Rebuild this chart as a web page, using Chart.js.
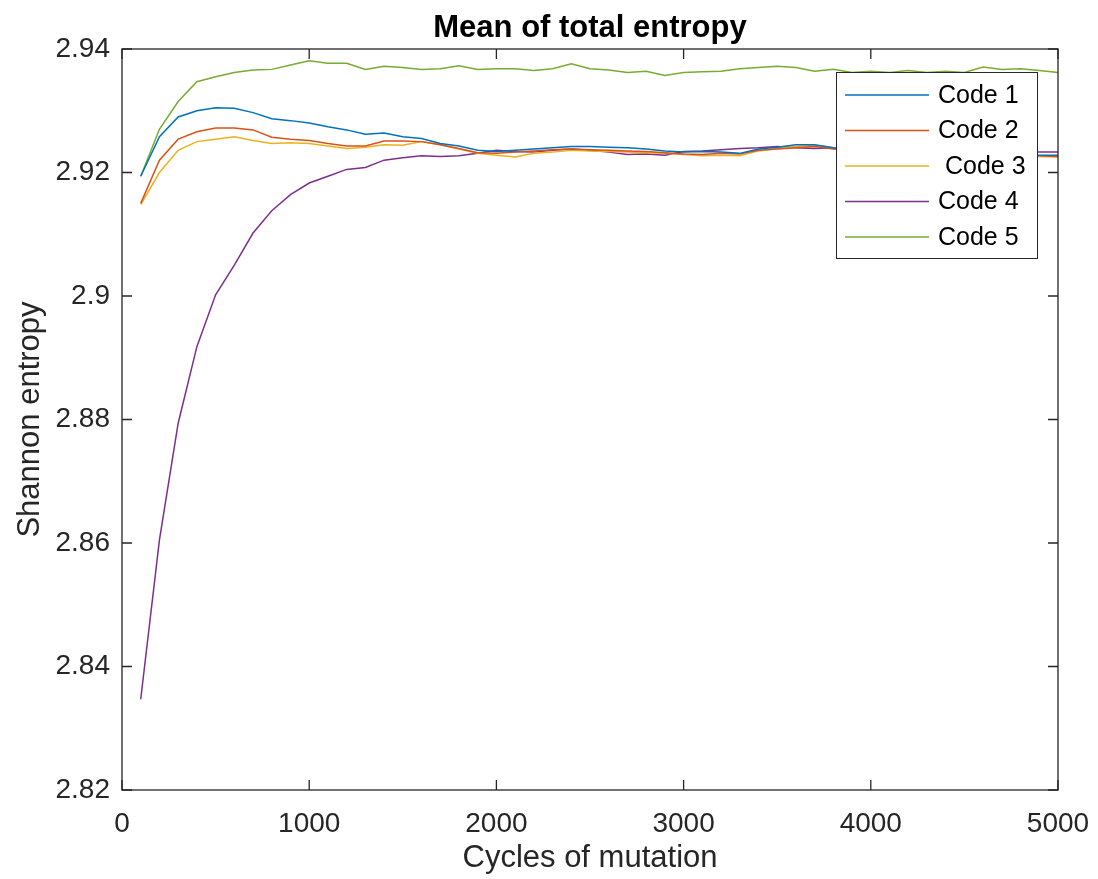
<!DOCTYPE html>
<html>
<head>
<meta charset="utf-8">
<script src="https://cdn.jsdelivr.net/npm/chart.js@4.4.1/dist/chart.umd.min.js"></script>
<style>
  html, body { margin: 0; padding: 0; background: #fff; }
  #wrap { width: 1098px; height: 879px; }
</style>
</head>
<body>
<div id="wrap"><canvas id="chart" width="1098" height="879"></canvas></div>
<script>
// cycles of mutation (x values)
const cycles = [100, 200, 300, 400, 500, 600, 700, 800, 900, 1000,
  1100, 1200, 1300, 1400, 1500, 1600, 1700, 1800, 1900, 2000,
  2100, 2200, 2300, 2400, 2500, 2600, 2700, 2800, 2900, 3000,
  3100, 3200, 3300, 3400, 3500, 3600, 3700, 3800, 3900, 4000,
  4100, 4200, 4300, 4400, 4500, 4600, 4700, 4800, 4900, 5000];

const code1 = [2.9194, 2.9258, 2.9290, 2.9300, 2.9305, 2.9304, 2.9297, 2.9287, 2.9284, 2.9280,
  2.9274, 2.9269, 2.9262, 2.9264, 2.9258, 2.9255, 2.9247, 2.9243, 2.9236, 2.9234,
  2.9236, 2.9238, 2.9240, 2.9242, 2.9242, 2.9241, 2.9240, 2.9238, 2.9235, 2.9233,
  2.9234, 2.9233, 2.9231, 2.9238, 2.9241, 2.9245, 2.9245, 2.9240, 2.9236, 2.9235,
  2.9233, 2.9232, 2.9233, 2.9231, 2.9232, 2.9230, 2.9231, 2.9229, 2.9228, 2.9228];

const code2 = [2.9150, 2.9220, 2.9254, 2.9266, 2.9272, 2.9272, 2.9269, 2.9257, 2.9254, 2.9252,
  2.9247, 2.9243, 2.9243, 2.9251, 2.9251, 2.9250, 2.9245, 2.9239, 2.9232, 2.9231,
  2.9233, 2.9235, 2.9237, 2.9238, 2.9237, 2.9236, 2.9235, 2.9234, 2.9232, 2.9230,
  2.9229, 2.9231, 2.9230, 2.9236, 2.9238, 2.9240, 2.9242, 2.9238, 2.9236, 2.9233,
  2.9232, 2.9233, 2.9231, 2.9232, 2.9230, 2.9231, 2.9229, 2.9228, 2.9227, 2.9226];

const code3 = [2.9148, 2.9200, 2.9236, 2.9250, 2.9254, 2.9258, 2.9252, 2.9247, 2.9248, 2.9247,
  2.9243, 2.9239, 2.9241, 2.9245, 2.9244, 2.9250, 2.9245, 2.9238, 2.9231, 2.9228,
  2.9225, 2.9231, 2.9233, 2.9236, 2.9235, 2.9234, 2.9233, 2.9232, 2.9231, 2.9229,
  2.9227, 2.9228, 2.9227, 2.9235, 2.9239, 2.9242, 2.9244, 2.9240, 2.9236, 2.9232,
  2.9231, 2.9230, 2.9231, 2.9230, 2.9229, 2.9230, 2.9228, 2.9227, 2.9226, 2.9225];

const code4 = [2.8347, 2.8605, 2.8794, 2.8918, 2.9002, 2.9050, 2.9102, 2.9138, 2.9164, 2.9183,
  2.9194, 2.9205, 2.9208, 2.9220, 2.9224, 2.9227, 2.9226, 2.9227, 2.9231, 2.9236,
  2.9234, 2.9233, 2.9236, 2.9238, 2.9236, 2.9233, 2.9229, 2.9230, 2.9228, 2.9234,
  2.9235, 2.9237, 2.9239, 2.9240, 2.9242, 2.9240, 2.9239, 2.9240, 2.9238, 2.9237,
  2.9236, 2.9237, 2.9235, 2.9236, 2.9234, 2.9235, 2.9233, 2.9234, 2.9233, 2.9233];

const code5 = [2.9194, 2.9270, 2.9315, 2.9347, 2.9355, 2.9362, 2.9366, 2.9367, 2.9374, 2.9381,
  2.9377, 2.9377, 2.9367, 2.9372, 2.9370, 2.9367, 2.9368, 2.9373, 2.9367, 2.9368,
  2.9368, 2.9365, 2.9368, 2.9376, 2.9368, 2.9366, 2.9362, 2.9364, 2.9357, 2.9362,
  2.9363, 2.9364, 2.9368, 2.9370, 2.9372, 2.9370, 2.9364, 2.9367, 2.9362, 2.9364,
  2.9362, 2.9365, 2.9362, 2.9364, 2.9362, 2.9371, 2.9367, 2.9368, 2.9365, 2.9362];

const seriesLabels = ['Code 1', 'Code 2', ' Code 3', 'Code 4', 'Code 5'];
const seriesColors = ['#0072BD', '#D95319', '#EDB120', '#7E2F8E', '#77AC30'];
const seriesValues = [code1, code2, code3, code4, code5];

const AXIS_COLOR = '#262626';
const FONT = "'Liberation Sans', Arial, Helvetica, sans-serif";

/**
 * MATLAB style box: full frame with inward tick marks on all four sides
 */
const boxPlugin = {
    id: 'matlabBox',
    afterDatasetsDraw(chart) {
        const {ctx, chartArea: a, scales} = chart;
        const len = 10;
        ctx.save();
        ctx.strokeStyle = AXIS_COLOR;
        ctx.lineWidth = 1.3;
        ctx.strokeRect(a.left, a.top, a.right - a.left, a.bottom - a.top);
        ctx.beginPath();
        scales.x.ticks.forEach((t) => {
            const px = scales.x.getPixelForValue(t.value);
            ctx.moveTo(px, a.bottom); ctx.lineTo(px, a.bottom - len);
            ctx.moveTo(px, a.top); ctx.lineTo(px, a.top + len);
        });
        scales.y.ticks.forEach((t) => {
            const py = scales.y.getPixelForValue(t.value);
            ctx.moveTo(a.left, py); ctx.lineTo(a.left + len, py);
            ctx.moveTo(a.right, py); ctx.lineTo(a.right - len, py);
        });
        ctx.stroke();
        ctx.restore();
    }
};

/**
 * Legend box in the top right corner of the axes, drawn over the lines
 */
const legendPlugin = {
    id: 'boxLegend',
    afterDraw(chart) {
        const {ctx} = chart;
        const x0 = 836, y0 = 72, w = 201, h = 186;
        ctx.save();
        ctx.fillStyle = '#fff';
        ctx.fillRect(x0, y0, w, h);
        ctx.strokeStyle = AXIS_COLOR;
        ctx.lineWidth = 1;
        ctx.strokeRect(x0 + 0.5, y0 + 0.5, w, h);
        ctx.font = '25px ' + FONT;
        ctx.textBaseline = 'middle';
        chart.data.datasets.forEach((ds, i) => {
            const y = 95 + i * 35.5;
            ctx.strokeStyle = ds.borderColor;
            ctx.lineWidth = 1.5;
            ctx.beginPath();
            ctx.moveTo(845, y);
            ctx.lineTo(929, y);
            ctx.stroke();
            ctx.fillStyle = '#000';
            ctx.fillText(ds.label, 938, y + 1);
        });
        ctx.restore();
    }
};

const datasets = seriesValues.map((vals, i) => ({
    label: seriesLabels[i],
    data: cycles.map((c, j) => ({x: c, y: vals[j]})),
    borderColor: seriesColors[i],
    backgroundColor: seriesColors[i],
    borderWidth: 1.5,
    pointRadius: 0,
    tension: 0,
    fill: false
}));

new Chart(document.getElementById('chart'), {
    type: 'line',
    data: {datasets: datasets},
    plugins: [boxPlugin, legendPlugin],
    options: {
        responsive: false,
        animation: false,
        layout: {padding: {left: 0, right: 40, top: 0, bottom: 0}},
        plugins: {
            legend: {display: false},
            tooltip: {enabled: false},
            title: {
                display: true,
                text: 'Mean of total entropy',
                fullSize: false,
                color: '#000',
                font: {family: FONT, size: 31, weight: 'bold', lineHeight: 1.2},
                padding: {top: 9.4, bottom: 2.4}
            }
        },
        scales: {
            x: {
                type: 'linear',
                min: 0,
                max: 5000,
                afterFit: (s) => {
                    s.height = 89;
                    // keep the plot box edges where the reference has them
                    s.paddingLeft = 0;
                    s.paddingRight = 0;
                },
                grid: {display: false, drawTicks: false},
                border: {display: false},
                ticks: {
                    stepSize: 1000,
                    padding: 17,
                    color: AXIS_COLOR,
                    maxRotation: 0,
                    font: {family: FONT, size: 28},
                    callback: (v) => String(v)
                },
                title: {
                    display: true,
                    text: 'Cycles of mutation',
                    color: AXIS_COLOR,
                    font: {family: FONT, size: 31, lineHeight: 1.2},
                    padding: {top: 0, bottom: 2.4}
                }
            },
            y: {
                min: 2.82,
                max: 2.94,
                afterFit: (s) => { s.width = 122; },
                grid: {display: false, drawTicks: false},
                border: {display: false},
                ticks: {
                    stepSize: 0.02,
                    padding: 12,
                    color: AXIS_COLOR,
                    font: {family: FONT, size: 28},
                    callback: (v) => String(+v.toFixed(2))
                },
                title: {
                    display: true,
                    text: 'Shannon entropy',
                    color: AXIS_COLOR,
                    font: {family: FONT, size: 31, lineHeight: 1.2},
                    padding: {top: 11.4, bottom: 0}
                }
            }
        }
    }
});
</script>
</body>
</html>
